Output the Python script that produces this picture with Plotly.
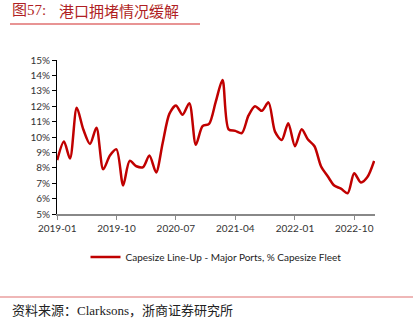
import plotly.graph_objects as go
import pandas as pd

dates = pd.date_range("2019-01-01", periods=49, freq="MS")
values = [8.5, 9.7, 8.6, 11.9, 10.5, 9.55, 10.6, 7.9, 8.8, 9.2,
          6.85, 8.45, 8.1, 8.05, 8.8, 7.7, 9.6, 11.5, 12.05, 11.45,
          12.2, 9.5, 10.7, 10.85, 12.3, 13.7, 10.5, 10.4, 10.25, 11.4,
          12.0, 11.7, 12.25, 10.35, 9.8, 10.9, 9.4, 10.5, 9.85, 9.4,
          8.1, 7.45, 6.85, 6.65, 6.35, 7.65, 7.05, 7.4, 8.45]
series_name = "Capesize Line-Up - Major Ports, % Capesize Fleet"
tick_dates = ["2019-01-01", "2019-10-01", "2020-07-01", "2021-04-01", "2022-01-01", "2022-10-01"]
tick_labels = ["2019-01", "2019-10", "2020-07", "2021-04", "2022-01", "2022-10"]
y_ticks = list(range(5, 16))
y_labels = [f"{v}%" for v in y_ticks]

title_num = "图57:"
title_text = "港口拥堵情况缓解"
source_text = "资料来源：Clarksons，浙商证券研究所"

fig = go.Figure()
fig.add_trace(go.Scatter(x=dates, y=values, mode="lines", name=series_name,
                         line=dict(color="#C00000", width=2.5, shape="spline", smoothing=0.8)))

fig.update_layout(
    width=413, height=322,
    margin=dict(l=57, r=38, t=60, b=108),
    paper_bgcolor="white", plot_bgcolor="white",
    font=dict(family="Lato, Liberation Sans, sans-serif", size=10, color="#333"),
    showlegend=True,
    legend=dict(orientation="h", x=0.5, xanchor="center", y=-0.28, yanchor="middle",
                font=dict(size=10, color="#222"), itemwidth=30),
    xaxis=dict(type="date", range=["2018-12-31", "2023-01-05"],
               tickvals=tick_dates, ticktext=tick_labels,
               showgrid=False, showline=True, linecolor="#888", linewidth=1.5,
               ticks="outside", ticklen=4, tickcolor="#888", zeroline=False,
               tickfont=dict(size=10, color="#333")),
    yaxis=dict(range=[5, 15], tickvals=y_ticks, ticktext=y_labels,
               showgrid=False, showline=True, linecolor="black", linewidth=1,
               ticks="outside", ticklen=4, tickcolor="black", zeroline=False,
               tickfont=dict(size=10, color="#333")),
)

title_font = dict(family="Liberation Serif, Noto Sans CJK SC", size=15, color="#B01F24")
fig.add_annotation(text=title_num, xref="paper", yref="paper", x=-47/318, y=1 + 50/154,
                   xanchor="left", yanchor="middle", showarrow=False, font=title_font)
fig.add_annotation(text=title_text, xref="paper", yref="paper", x=0/318, y=1 + 50/154,
                   xanchor="left", yanchor="middle", showarrow=False,
                   font=dict(family="Noto Sans CJK SC", size=15, color="#B01F24"))
fig.add_shape(type="line", xref="paper", yref="paper",
              x0=-47/318, x1=143/318, y0=1 + 36/154, y1=1 + 36/154,
              line=dict(color="#E07070", width=1.5))
fig.add_shape(type="line", xref="paper", yref="paper",
              x0=-57/318, x1=356/318, y0=-83/154, y1=-83/154,
              line=dict(color="#E07070", width=1.2))
fig.add_annotation(text=source_text, xref="paper", yref="paper", x=-47/318, y=-96/154,
                   xanchor="left", yanchor="middle", showarrow=False,
                   font=dict(family="Liberation Serif, Noto Sans CJK SC", size=13, color="#222"))

fig.write_html("out.html")
